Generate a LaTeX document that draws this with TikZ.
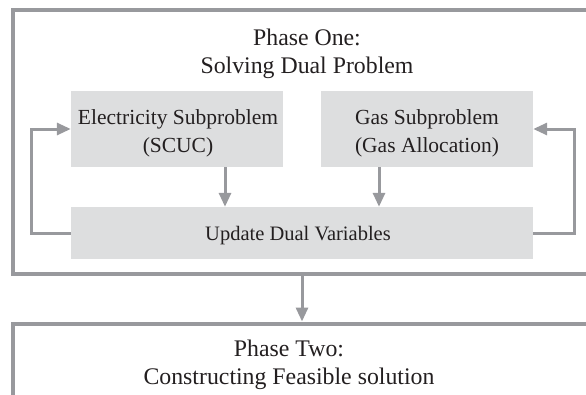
\documentclass[tikz,border=0pt]{standalone}
\usepackage{fontspec}
\setmainfont{Liberation Serif}
\usetikzlibrary{arrows.meta}
\definecolor{linegray}{RGB}{152,153,157}
\definecolor{boxgray}{RGB}{221,222,223}
\definecolor{textdark}{RGB}{35,31,32}
\tikzset{
  frame/.style={draw=linegray, line width=4pt, fill=none, inner sep=0pt},
  subbox/.style={fill=boxgray, draw=none, inner sep=0pt},
  boxtext/.style={inner sep=0pt, align=center, text=textdark, font=\fontsize{21.5}{28}\selectfont},
  title/.style={inner sep=0pt, align=center, text=textdark, font=\fontsize{23.8}{28}\selectfont},
  arr/.style={draw=linegray, line width=3pt, -{Triangle[length=14pt,width=12pt]}},
}
\begin{document}
\begin{tikzpicture}[x=1pt,y=-1pt]
\useasboundingbox (0,0) rectangle (586,394);
\clip (0,0) rectangle (586,394);
% phase frames
\node[frame, minimum width=597pt, minimum height=264.5pt] (p1) at (311.5,141.75) {};
\node[frame, minimum width=597pt, minimum height=120pt] (p2) at (311.5,383.5) {};
% titles
\node[title] (t1) at (307,53.6) {Phase One:\\Solving Dual Problem};
\node[title] (t2) at (289,364.6) {Phase Two:\\Constructing Feasible solution};
% boxes
\node[subbox, minimum width=212pt, minimum height=76pt] (elec) at (177,129) {};
\node[subbox, minimum width=212pt, minimum height=76pt] (gas) at (427,129) {};
\node[subbox, minimum width=462pt, minimum height=52pt] (upd) at (302,233) {};
\node[boxtext] (elecT) at (178,133.5) {Electricity Subproblem\\(SCUC)};
\node[boxtext] (gasT) at (427,133.5) {Gas Subproblem\\(Gas Allocation)};
\node[boxtext, font=\fontsize{20.5}{28}\selectfont] (updT) at (298,235.3) {Update Dual Variables};
% arrows
\draw[arr] ([xshift=48pt]elec.south) -- ([xshift=48pt]elec.south |- upd.north);
\draw[arr] ([xshift=-48pt]gas.south) -- ([xshift=-48pt]gas.south |- upd.north);
\draw[arr] (upd.west) -- ++(-39pt,0) |- (elec.west);
\draw[arr] (upd.east) -- ++(41pt,0) |- (gas.east);
\draw[arr] (p1.south -| upd.north) -- (p2.north -| upd.north);
\end{tikzpicture}
\end{document}
